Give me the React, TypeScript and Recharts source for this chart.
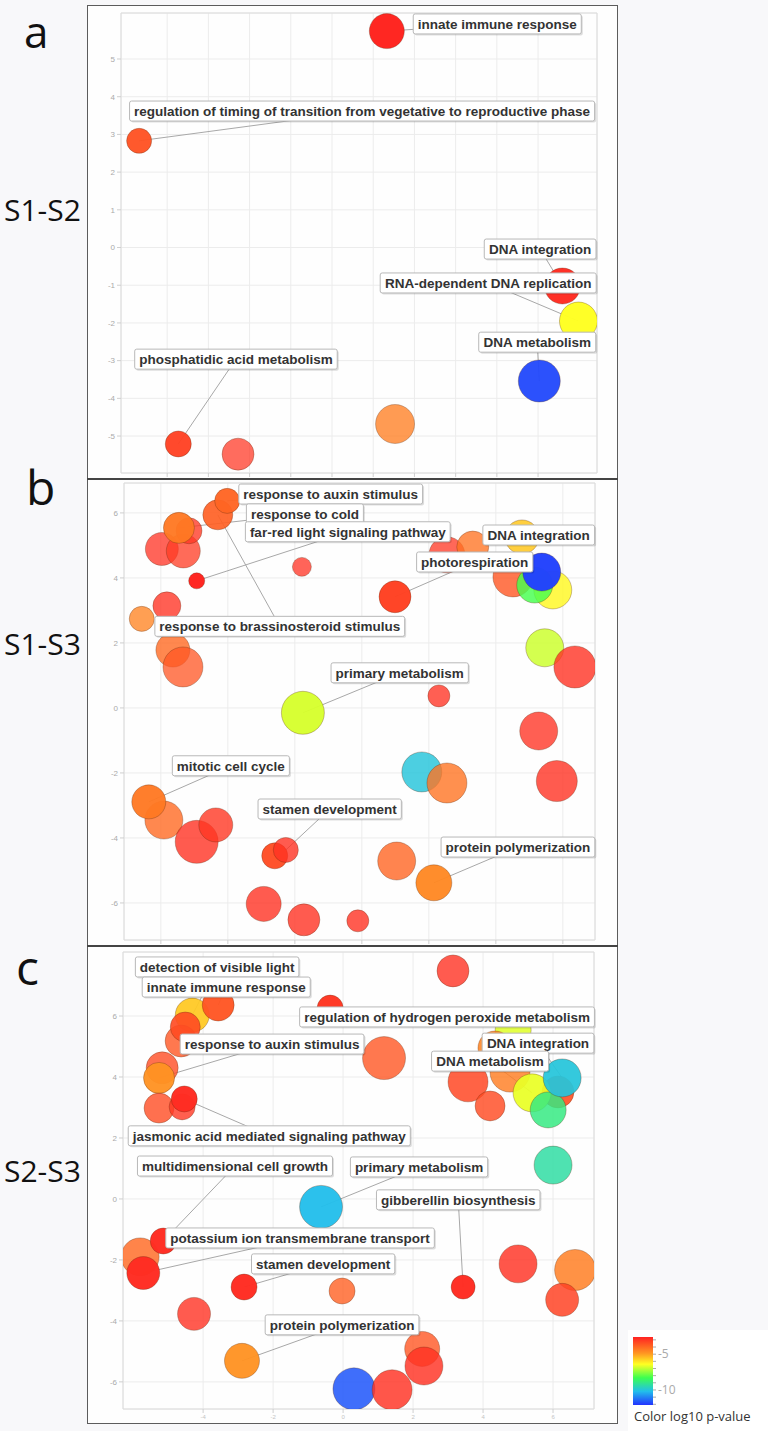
import React from "react";
import {
  ScatterChart,
  Scatter,
  XAxis,
  YAxis,
  ZAxis,
  CartesianGrid,
  ReferenceArea,
  ReferenceLine,
  ReferenceDot,
} from "recharts";

// REVIGO semantic-space plots: x/y = semantic coords, size = log10 term size,
// logP = log10 p-value (colour), disp = dispensability (more dispensable -> paler)

const termsA = [
  { name: "", x: -3.28, y: -5.48, size: 2.22, logP: -3.0, disp: 0.6 },
  { name: "", x: 0.53, y: -4.68, size: 3.3, logP: -4.4, disp: 0.5 },
  { name: "innate immune response", x: 0.33, y: 5.74, size: 2.66, logP: -2.7, disp: 0 },
  { name: "regulation of timing of transition from vegetative to reproductive phase", x: -5.68, y: 2.83, size: 1.36, logP: -3.55, disp: 0.1 },
  { name: "DNA integration", x: 4.59, y: -1.02, size: 2.81, logP: -2.8, disp: 0.05 },
  { name: "RNA-dependent DNA replication", x: 4.98, y: -1.95, size: 3.13, logP: -6.4, disp: 0.05 },
  { name: "DNA metabolism", x: 4.03, y: -3.54, size: 3.83, logP: -11.8, disp: 0.1 },
  { name: "phosphatidic acid metabolism", x: -4.73, y: -5.21, size: 1.47, logP: -3.2, disp: 0.1 },
];

const labelsA = [
  { term: "innate immune response", x: 3.01, y: 5.93 },
  { term: "regulation of timing of transition from vegetative to reproductive phase", x: -0.27, y: 3.62 },
  { term: "DNA integration", x: 4.05, y: -0.04 },
  { term: "RNA-dependent DNA replication", x: 2.79, y: -0.94 },
  { term: "DNA metabolism", x: 3.98, y: -2.51 },
  { term: "phosphatidic acid metabolism", x: -3.33, y: -2.96 },
];

const termsB = [
  { name: "", x: -5.97, y: 4.89, size: 2.36, logP: -2.9, disp: 0.55 },
  { name: "", x: -5.33, y: 4.83, size: 2.51, logP: -3.1, disp: 0.55 },
  { name: "", x: -5.16, y: 5.45, size: 1.47, logP: -3.0, disp: 0.5 },
  { name: "response to cold", x: -5.46, y: 5.54, size: 2.09, logP: -4.3, disp: 0.1 },
  { name: "response to brassinosteroid stimulus", x: -4.3, y: 5.94, size: 1.95, logP: -3.8, disp: 0.2 },
  { name: "response to auxin stimulus", x: -4.02, y: 6.37, size: 1.36, logP: -3.9, disp: 0.1 },
  { name: "far-red light signaling pathway", x: -4.93, y: 3.91, size: 0.56, logP: -2.7, disp: 0 },
  { name: "", x: -1.79, y: 4.34, size: 0.78, logP: -2.9, disp: 0.55 },
  { name: "", x: -5.82, y: 3.14, size: 1.7, logP: -2.9, disp: 0.5 },
  { name: "", x: -6.57, y: 2.74, size: 1.36, logP: -4.5, disp: 0.5 },
  { name: "", x: -5.64, y: 1.78, size: 2.51, logP: -4.0, disp: 0.45 },
  { name: "", x: -5.34, y: 1.26, size: 3.47, logP: -3.6, disp: 0.55 },
  { name: "photorespiration", x: 0.99, y: 3.42, size: 2.22, logP: -3.2, disp: 0.05 },
  { name: "", x: 2.54, y: 4.71, size: 2.81, logP: -3.0, disp: 0.55 },
  { name: "", x: 3.31, y: 4.95, size: 2.22, logP: -4.2, disp: 0.5 },
  { name: "DNA integration", x: 4.78, y: 5.26, size: 2.51, logP: -5.6, disp: 0.3 },
  { name: "", x: 4.51, y: 4.03, size: 3.47, logP: -3.6, disp: 0.45 },
  { name: "", x: 5.7, y: 3.63, size: 3.13, logP: -6.3, disp: 0.4 },
  { name: "", x: 5.16, y: 3.78, size: 2.81, logP: -8.2, disp: 0.4 },
  { name: "", x: 5.37, y: 4.18, size: 3.13, logP: -11.9, disp: 0.05 },
  { name: "", x: 5.46, y: 1.85, size: 3.13, logP: -6.9, disp: 0.35 },
  { name: "", x: 6.36, y: 1.26, size: 3.83, logP: -2.9, disp: 0.45 },
  { name: "primary metabolism", x: -1.76, y: -0.15, size: 4.01, logP: -6.8, disp: 0.1 },
  { name: "", x: 2.3, y: 0.37, size: 1.05, logP: -2.9, disp: 0.5 },
  { name: "", x: 5.28, y: -0.71, size: 3.13, logP: -2.9, disp: 0.5 },
  { name: "", x: 1.79, y: -1.97, size: 3.47, logP: -10.0, disp: 0.4 },
  { name: "", x: 2.54, y: -2.31, size: 3.47, logP: -4.2, disp: 0.45 },
  { name: "", x: 5.82, y: -2.25, size: 3.65, logP: -2.9, disp: 0.45 },
  { name: "", x: -5.91, y: -3.45, size: 3.13, logP: -4.0, disp: 0.45 },
  { name: "mitotic cell cycle", x: -6.36, y: -2.89, size: 2.51, logP: -4.3, disp: 0.1 },
  { name: "", x: -4.93, y: -4.12, size: 4.01, logP: -2.9, disp: 0.45 },
  { name: "", x: -4.36, y: -3.6, size: 2.51, logP: -3.0, disp: 0.45 },
  { name: "", x: -2.6, y: -4.55, size: 1.47, logP: -3.4, disp: 0.1 },
  { name: "stamen development", x: -2.27, y: -4.37, size: 1.36, logP: -2.9, disp: 0.45 },
  { name: "", x: 1.04, y: -4.71, size: 3.13, logP: -3.9, disp: 0.45 },
  { name: "protein polymerization", x: 2.15, y: -5.38, size: 2.81, logP: -4.6, disp: 0.1 },
  { name: "", x: -2.93, y: -6.03, size: 2.66, logP: -2.9, disp: 0.45 },
  { name: "", x: -1.73, y: -6.52, size: 2.22, logP: -2.9, disp: 0.45 },
  { name: "", x: -0.12, y: -6.55, size: 1.05, logP: -2.9, disp: 0.45 },
];

const labelsB = [
  { term: "response to auxin stimulus", x: -0.93, y: 6.58 },
  { term: "response to cold", x: -1.7, y: 5.97 },
  { term: "far-red light signaling pathway", x: -0.42, y: 5.42 },
  { term: "response to brassinosteroid stimulus", x: -2.45, y: 2.51 },
  { term: "DNA integration", x: 5.28, y: 5.32 },
  { term: "photorespiration", x: 3.37, y: 4.49 },
  { term: "primary metabolism", x: 1.13, y: 1.08 },
  { term: "mitotic cell cycle", x: -3.91, y: -1.78 },
  { term: "stamen development", x: -0.96, y: -3.11 },
  { term: "protein polymerization", x: 4.66, y: -4.28 },
];

const termsC = [
  { name: "", x: 3.14, y: 7.48, size: 2.22, logP: -2.9, disp: 0.45 },
  { name: "detection of visible light", x: -4.31, y: 6.03, size: 2.51, logP: -5.6, disp: 0.15 },
  { name: "innate immune response", x: -3.57, y: 6.36, size: 2.22, logP: -3.6, disp: 0.1 },
  { name: "", x: -4.63, y: 5.18, size: 2.22, logP: -3.6, disp: 0.45 },
  { name: "", x: -4.51, y: 5.64, size: 1.95, logP: -3.4, disp: 0.2 },
  { name: "regulation of hydrogen peroxide metabolism", x: -0.37, y: 6.26, size: 1.47, logP: -3.0, disp: 0.05 },
  { name: "", x: 4.86, y: 5.54, size: 2.81, logP: -6.7, disp: 0.3 },
  { name: "", x: 1.17, y: 4.62, size: 4.01, logP: -3.6, disp: 0.45 },
  { name: "", x: -5.17, y: 4.3, size: 2.22, logP: -3.4, disp: 0.45 },
  { name: "response to auxin stimulus", x: -5.26, y: 3.97, size: 2.09, logP: -4.8, disp: 0.1 },
  { name: "", x: 4.34, y: 4.95, size: 2.51, logP: -4.5, disp: 0.3 },
  { name: "", x: 3.57, y: 3.84, size: 3.47, logP: -3.3, disp: 0.35 },
  { name: "", x: 4.77, y: 4.16, size: 3.47, logP: -4.4, disp: 0.4 },
  { name: "", x: 4.2, y: 3.05, size: 1.95, logP: -3.4, disp: 0.4 },
  { name: "", x: 6.14, y: 3.51, size: 2.22, logP: -3.5, disp: 0.2 },
  { name: "DNA metabolism", x: 5.4, y: 3.48, size: 3.13, logP: -6.6, disp: 0.15 },
  { name: "", x: 5.86, y: 2.92, size: 2.81, logP: -8.9, disp: 0.35 },
  { name: "DNA integration", x: 6.26, y: 3.97, size: 3.13, logP: -10.0, disp: 0.15 },
  { name: "", x: 6.0, y: 1.11, size: 3.13, logP: -9.3, disp: 0.35 },
  { name: "", x: -5.26, y: 2.98, size: 1.95, logP: -3.4, disp: 0.45 },
  { name: "", x: -4.6, y: 3.02, size: 1.47, logP: -3.0, disp: 0.45 },
  { name: "jasmonic acid mediated signaling pathway", x: -4.54, y: 3.28, size: 1.47, logP: -2.8, disp: 0.05 },
  { name: "", x: -5.8, y: -1.9, size: 3.13, logP: -4.0, disp: 0.4 },
  { name: "multidimensional cell growth", x: -5.14, y: -1.38, size: 1.47, logP: -2.8, disp: 0.05 },
  { name: "potassium ion transmembrane transport", x: -5.71, y: -2.43, size: 2.36, logP: -2.8, disp: 0.05 },
  { name: "primary metabolism", x: -0.63, y: -0.26, size: 4.01, logP: -10.2, disp: 0.1 },
  { name: "gibberellin biosynthesis", x: 3.43, y: -2.89, size: 1.25, logP: -2.8, disp: 0.05 },
  { name: "stamen development", x: -2.83, y: -2.89, size: 1.47, logP: -2.8, disp: 0.05 },
  { name: "", x: -0.03, y: -3.02, size: 1.47, logP: -3.8, disp: 0.45 },
  { name: "", x: -4.26, y: -3.77, size: 2.36, logP: -2.9, disp: 0.45 },
  { name: "", x: 5.0, y: -2.13, size: 3.13, logP: -2.9, disp: 0.4 },
  { name: "", x: 6.63, y: -2.33, size: 3.65, logP: -4.4, disp: 0.35 },
  { name: "", x: 6.26, y: -3.31, size: 2.36, logP: -3.2, disp: 0.35 },
  { name: "protein polymerization", x: -2.89, y: -5.31, size: 2.66, logP: -4.8, disp: 0.1 },
  { name: "", x: 2.26, y: -4.92, size: 2.66, logP: -3.6, disp: 0.45 },
  { name: "", x: 2.31, y: -5.48, size: 3.13, logP: -2.9, disp: 0.4 },
  { name: "", x: 0.31, y: -6.23, size: 3.83, logP: -11.6, disp: 0.3 },
  { name: "", x: 1.4, y: -6.26, size: 3.47, logP: -2.9, disp: 0.4 },
];

const labelsC = [
  { term: "detection of visible light", x: -3.6, y: 7.61 },
  { term: "innate immune response", x: -3.34, y: 6.95 },
  { term: "regulation of hydrogen peroxide metabolism", x: 2.97, y: 5.97 },
  { term: "response to auxin stimulus", x: -2.03, y: 5.08 },
  { term: "DNA integration", x: 5.57, y: 5.11 },
  { term: "DNA metabolism", x: 4.2, y: 4.52 },
  { term: "jasmonic acid mediated signaling pathway", x: -2.11, y: 2.07 },
  { term: "multidimensional cell growth", x: -3.09, y: 1.08 },
  { term: "primary metabolism", x: 2.17, y: 1.05 },
  { term: "gibberellin biosynthesis", x: 3.29, y: -0.03 },
  { term: "potassium ion transmembrane transport", x: -1.23, y: -1.28 },
  { term: "stamen development", x: -0.57, y: -2.13 },
  { term: "protein polymerization", x: -0.03, y: -4.13 },
];

const legendTicks = [-5, -10];

// colour scale for log10 p-value (blue = most significant, red = least)
const P_MIN = -12.1;
const P_MAX = -2.6;
const STOPS: [number, number[]][] = [
  [0, [34, 51, 255]],
  [0.2, [34, 190, 235]],
  [0.4, [60, 255, 80]],
  [0.6, [255, 255, 34]],
  [0.76, [255, 150, 34]],
  [1, [255, 34, 34]],
];

function colorAt(t: number) {
  t = Math.max(0, Math.min(1, t));
  for (let i = 1; i < STOPS.length; i++) {
    const [t1, c1] = STOPS[i];
    const [t0, c0] = STOPS[i - 1];
    if (t <= t1) {
      const f = (t - t0) / (t1 - t0);
      const c = c0.map((v, k) => Math.round(v + (c1[k] - v) * f));
      return `rgb(${c[0]},${c[1]},${c[2]})`;
    }
  }
  return "rgb(255,34,34)";
}
const pColor = (p: number) => colorAt((p - P_MIN) / (P_MAX - P_MIN));

const FONT = "'Liberation Sans', Arial, sans-serif";
const LABEL_FONT = 13.5;

let measureCtx: CanvasRenderingContext2D | null = null;
function textWidth(s: string) {
  if (!measureCtx) measureCtx = document.createElement("canvas").getContext("2d");
  if (!measureCtx) return s.length * 7;
  measureCtx.font = `bold ${LABEL_FONT}px ${FONT}`;
  return measureCtx.measureText(s).width;
}

function Bubble(props: any) {
  const { cx, cy, payload } = props;
  const r = props.width ? props.width / 2 : Math.sqrt((props.size || 64) / Math.PI);
  return (
    <circle
      cx={cx}
      cy={cy}
      r={r}
      fill={pColor(payload.logP)}
      fillOpacity={1 - 0.45 * payload.disp}
      stroke="#5a2a10"
      strokeOpacity={0.3}
      strokeWidth={1}
    />
  );
}

function LabelBox({ cx, cy, text }: { cx: number; cy: number; text: string }) {
  const w = textWidth(text) + 9;
  const h = 20;
  return (
    <g>
      <rect x={cx - w / 2 + 1.5} y={cy - h / 2 + 1.5} width={w} height={h} rx={2} fill="#000" fillOpacity={0.13} />
      <rect x={cx - w / 2} y={cy - h / 2} width={w} height={h} rx={2} fill="#fff" stroke="#b8b8b8" strokeWidth={1} />
      <text
        x={cx}
        y={cy + 4.8}
        textAnchor="middle"
        fontFamily={FONT}
        fontWeight="bold"
        fontSize={LABEL_FONT}
        fill="#333"
      >
        {text}
      </text>
    </g>
  );
}

type Term = { name: string; x: number; y: number; size: number; logP: number; disp: number };
type Lbl = { term: string; x: number; y: number };

function Panel(props: {
  terms: Term[];
  labels: Lbl[];
  width: number;
  height: number;
  margin: { top: number; right: number; bottom: number; left: number };
  xDomain: number[];
  yDomain: number[];
  xTicks: number[];
  yTicks: number[];
  xAxisHeight: number;
  showXLabels: boolean;
}) {
  const { terms, labels, xDomain, yDomain } = props;
  const byName = new Map(terms.map((t) => [t.name, t]));
  return (
    <ScatterChart width={props.width} height={props.height} margin={props.margin}>
      <CartesianGrid stroke="#ececec" />
      <ReferenceArea
        x1={xDomain[0]}
        x2={xDomain[1]}
        y1={yDomain[0]}
        y2={yDomain[1]}
        fill="none"
        stroke="#dcdcdc"
        ifOverflow="visible"
      />
      <XAxis
        type="number"
        dataKey="x"
        domain={xDomain}
        ticks={props.xTicks}
        allowDataOverflow
        axisLine={false}
        tickLine={{ stroke: "#cfcfcf" }}
        tickSize={4}
        height={props.xAxisHeight}
        tick={{ fontSize: 6, fill: "#c4c4c4", fontFamily: FONT }}
        tickFormatter={(v) => (props.showXLabels ? String(v) : "")}
      />
      <YAxis
        type="number"
        dataKey="y"
        domain={yDomain}
        ticks={props.yTicks}
        allowDataOverflow
        axisLine={false}
        width={20}
        tickSize={4}
        tickMargin={2}
        tickLine={{ stroke: "#cfcfcf" }}
        tick={{ fontSize: 8, fill: "#aaa", fontFamily: FONT }}
      />
      <ZAxis type="number" dataKey="size" domain={[0, 5]} range={[0, Math.PI * 24 * 24]} />
      {labels.map((l) => {
        const t = byName.get(l.term)!;
        return (
          <ReferenceLine
            key={"ln-" + l.term}
            segment={[
              { x: t.x, y: t.y },
              { x: l.x, y: l.y },
            ]}
            stroke="#a8a8a8"
            strokeWidth={1}
            ifOverflow="visible"
          />
        );
      })}
      <Scatter data={terms} shape={Bubble} isAnimationActive={false} />
      {labels.map((l) => (
        <ReferenceDot
          key={"lb-" + l.term}
          x={l.x}
          y={l.y}
          r={0}
          ifOverflow="visible"
          shape={(p: any) => <LabelBox cx={p.cx} cy={p.cy} text={l.term} />}
        />
      ))}
    </ScatterChart>
  );
}

const FRAME_LEFT = 87;
const FRAME_W = 531;

export default function App() {
  const legendTop = 1337;
  const legendH = 68;
  const legendY = (v: number) => legendTop + ((P_MAX - v) / (P_MAX - P_MIN)) * legendH;
  const minorTicks = [-3, -4, -5, -6, -7, -8, -9, -10, -11, -12];
  return (
    <div
      style={{
        position: "absolute",
        left: 0,
        top: 0,
        width: 768,
        height: 1431,
        background: "#f8f8fa",
        overflow: "hidden",
      }}
    >
      <svg width={768} height={1431} style={{ position: "absolute", left: 0, top: 0 }}>
        <g fontFamily="'Open Sans', sans-serif" fill="#111">
          <text x={24} y={47.5} fontSize={44}>a</text>
          <text x={26} y={505} fontSize={48}>b</text>
          <text x={16} y={985} fontSize={48}>c</text>
          <text x={4} y={221} fontSize={30}>S1-S2</text>
          <text x={4} y={655} fontSize={30}>S1-S3</text>
          <text x={4} y={1182} fontSize={30}>S2-S3</text>
        </g>
        <rect x={628} y={1330} width={140} height={101} fill="#fff" />
        <defs>
          <linearGradient id="pgrad" x1="0" y1="1" x2="0" y2="0">
            {STOPS.map(([t, c]) => (
              <stop key={t} offset={t} stopColor={`rgb(${c[0]},${c[1]},${c[2]})`} />
            ))}
          </linearGradient>
        </defs>
        <rect x={633} y={legendTop} width={20} height={legendH} fill="url(#pgrad)" />
        {minorTicks.map((v) => (
          <line key={v} x1={653} x2={656} y1={legendY(v)} y2={legendY(v)} stroke="#aaa" />
        ))}
        {legendTicks.map((v) => (
          <text key={v} x={658} y={legendY(v) + 4} fontSize={12} fill="#aaa" fontFamily="'Open Sans', sans-serif">
            {v}
          </text>
        ))}
        <text x={634} y={1421} fontSize={13} fill="#333" fontFamily="'Open Sans', sans-serif">
          Color log10 p-value
        </text>
      </svg>

      <div style={{ position: "absolute", left: FRAME_LEFT, top: 5, width: FRAME_W, height: 1419, background: "#fefefe" }} />

      <div style={{ position: "absolute", left: FRAME_LEFT, top: 5 }}>
        <Panel
          terms={termsA}
          labels={labelsA}
          width={FRAME_W}
          height={474}
          margin={{ top: 8, right: 21, bottom: 0, left: 14 }}
          xDomain={[-6.12, 5.43]}
          yDomain={[-5.98, 6.22]}
          xTicks={[-5, -4, -3, -2, -1, 0, 1, 2, 3, 4]}
          yTicks={[-5, -4, -3, -2, -1, 0, 1, 2, 3, 4, 5]}
          xAxisHeight={6}
          showXLabels={false}
        />
      </div>
      <div style={{ position: "absolute", left: FRAME_LEFT, top: 479 }}>
        <Panel
          terms={termsB}
          labels={labelsB}
          width={FRAME_W}
          height={467}
          margin={{ top: 4, right: 23, bottom: 0, left: 17 }}
          xDomain={[-7.1, 6.96]}
          yDomain={[-7.14, 6.92]}
          xTicks={[-6, -4, -2, 0, 2, 4, 6]}
          yTicks={[-6, -4, -2, 0, 2, 4, 6]}
          xAxisHeight={6}
          showXLabels={false}
        />
      </div>
      <div style={{ position: "absolute", left: FRAME_LEFT, top: 946 }}>
        <Panel
          terms={termsC}
          labels={labelsC}
          width={FRAME_W}
          height={478}
          margin={{ top: 6, right: 24, bottom: 1, left: 16 }}
          xDomain={[-6.29, 7.17]}
          yDomain={[-6.89, 8.1]}
          xTicks={[-4, -2, 0, 2, 4, 6]}
          yTicks={[-6, -4, -2, 0, 2, 4, 6]}
          xAxisHeight={14}
          showXLabels={true}
        />
      </div>

      <div
        style={{
          position: "absolute",
          left: FRAME_LEFT,
          top: 5,
          width: FRAME_W - 2,
          height: 1419 - 2,
          border: "1px solid #5c5c5c",
          pointerEvents: "none",
        }}
      />
      <div style={{ position: "absolute", left: FRAME_LEFT, top: 478, width: FRAME_W, height: 2, background: "#444" }} />
      <div style={{ position: "absolute", left: FRAME_LEFT, top: 945, width: FRAME_W, height: 2, background: "#444" }} />
    </div>
  );
}
